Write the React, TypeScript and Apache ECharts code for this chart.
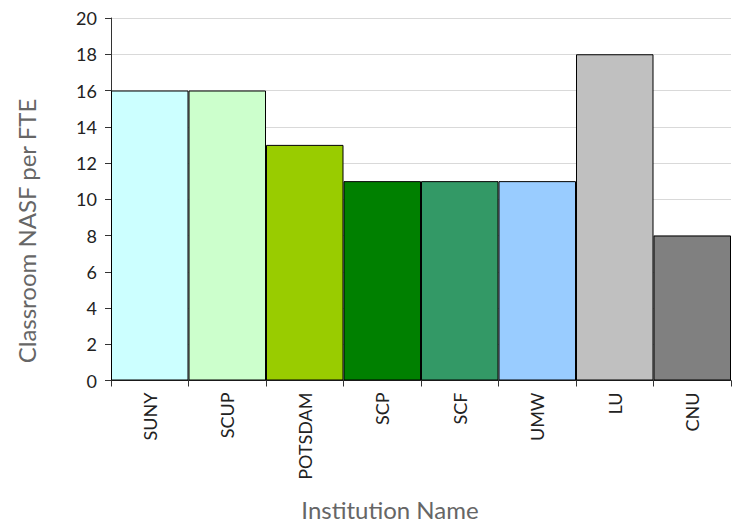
import React, { useEffect, useRef } from "react";
import * as echarts from "echarts";

const categories = ["SUNY", "SCUP", "POTSDAM", "SCP", "SCF", "UMW", "LU", "CNU"];
const values = [16, 16, 13, 11, 11, 11, 18, 8];
const colors = ["#CCFFFF", "#CCFFCC", "#99CC00", "#008000", "#339966", "#99CCFF", "#C0C0C0", "#808080"];
const yTicks = { min: 0, max: 20, interval: 2 };
const xTitle = "Institution Name";
const yTitle = "Classroom NASF per FTE";

export default function App() {
  const ref = useRef<HTMLDivElement>(null);
  useEffect(() => {
    if (!ref.current) return;
    const chart = echarts.init(ref.current, null, { renderer: "svg" });
    const font = "Lato, 'Open Sans', sans-serif";
    chart.setOption({
      animation: false,
      grid: { left: 111, right: 1, top: 18, bottom: 141.5, containLabel: false },
      graphic: [
        {
          type: "text",
          x: 390,
          y: 509,
          style: {
            text: xTitle,
            font: `24px ${font}`,
            fill: "#666",
            align: "center",
            verticalAlign: "middle",
          },
        },
        {
          type: "text",
          x: 26,
          y: 231,
          rotation: Math.PI / 2,
          style: {
            text: yTitle,
            font: `24px ${font}`,
            fill: "#666",
            align: "center",
            verticalAlign: "middle",
          },
        },
      ],
      xAxis: {
        type: "category",
        data: categories,
        boundaryGap: true,
        axisLine: { show: true, lineStyle: { color: "#333", width: 1 } },
        axisTick: { show: true, length: 6, lineStyle: { color: "#333" } },
        axisLabel: {
          rotate: 90,
          margin: 12,
          fontFamily: font,
          fontSize: 18,
          color: "#222",
          interval: 0,
        },
      },
      yAxis: {
        type: "value",
        min: yTicks.min,
        max: yTicks.max,
        interval: yTicks.interval,
        axisLine: { show: true, lineStyle: { color: "#333", width: 1 } },
        axisTick: { show: true, length: 6, lineStyle: { color: "#333" } },
        axisLabel: { margin: 14, fontFamily: font, fontSize: 18, color: "#222" },
        splitLine: { show: true, lineStyle: { color: "#d9d9d9", width: 1 } },
      },
      series: [
        {
          type: "bar",
          data: values.map((v, i) => ({ value: v, itemStyle: { color: colors[i] } })),
          barCategoryGap: "0%",
          itemStyle: { borderColor: "#000", borderWidth: 1 },
        },
      ],
    });
    return () => chart.dispose();
  }, []);
  return <div ref={ref} style={{ width: 732, height: 522, position: "absolute", left: 0, top: 0 }} />;
}
